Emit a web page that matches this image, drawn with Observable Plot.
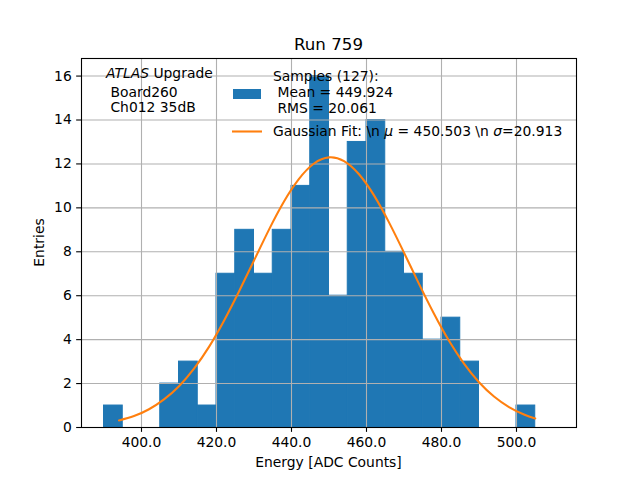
<!DOCTYPE html>
<html><head><meta charset="utf-8">
<script src="https://cdn.jsdelivr.net/npm/d3@7"></script>
<script src="https://cdn.jsdelivr.net/npm/@observablehq/plot@0.6"></script>
<style>
body{margin:0;background:#fff}
svg{font-family:"DejaVu Sans",sans-serif}
</style>
</head><body><div id="chart"></div>
<script>
// Histogram bin edges and counts (bin width 5 ADC counts)
const binEdges = [390,395,400,405,410,415,420,425,430,435,440,445,450,455,460,465,470,475,480,485,490,495,500,505,510];
const counts   = [1,0,0,2,3,1,7,9,7,9,11,16,6,13,14,8,7,4,5,3,0,0,1,0];
// Gaussian fit curve
const fitX = [394,398,402,406,410,414,418,422,426,430,434,438,442,446,450,454,458,462,466,470,474,478,482,486,490,494,498,502,505];
const fitY = [0.32,0.52,0.83,1.28,1.88,2.68,3.67,4.86,6.19,7.60,9.01,10.29,11.32,12.02,12.30,12.13,11.53,10.57,9.34,7.96,6.54,5.18,3.95,2.91,2.06,1.41,0.93,0.59,0.41];
const xTicks = [400,420,440,460,480,500];
const yTicks = [0,2,4,6,8,10,12,14,16];
const titleText = "Run 759";
const xLabel = "Energy [ADC Counts]";
const yLabel = "Entries";
const annotLines = [[["ATLAS",true],[" Upgrade",false]],[[" Board260",false]],[[" Ch012 35dB",false]]];
const sampleLabel = ["Samples (127):"," Mean = 449.924"," RMS = 20.061"];
const fitLabel = [["Gaussian Fit: \\n ",false],["μ",true],[" = 450.503 \\n ",false],["σ",true],["=20.913",false]];

const bins = counts.map((c,i)=>({x1: binEdges[i], x2: binEdges[i+1], y: c}));
const fit = fitX.map((x,i)=>({x, y: fitY[i]}));

const FS = 13.89;
const grid = {stroke:"#b0b0b0", strokeOpacity:1, strokeWidth:1.1};
const plot = Plot.plot({
  width: 640, height: 480,
  marginLeft: 81, marginRight: 64, marginTop: 58, marginBottom: 53,
  style: {fontFamily: "DejaVu Sans", fontSize: FS+"px", background: "white", color: "black", overflow: "visible"},
  x: {domain: [384, 516]},
  y: {domain: [0, 16.8]},
  marks: [
    Plot.rectY(bins, {x1:"x1", x2:"x2", y:"y", fill:"#1f77b4", stroke:"#1f77b4", strokeWidth:1, strokeOpacity:1, inset: 0}),
    Plot.gridX(xTicks, grid),
    Plot.gridY(yTicks, grid),
    Plot.line(fit, {x:"x", y:"y", stroke:"#ff7f0e", strokeWidth:2.08, curve:"natural"}),
    Plot.frame({stroke:"black", strokeWidth:1.1}),
    Plot.axisX(xTicks, {tickFormat: d=>d.toFixed(1), tickSize: 4.86, tickPadding: 4.86, label: null, fontSize: FS, strokeWidth:1.1, strokeOpacity:1}),
    Plot.axisY(yTicks, {tickSize: 4.86, tickPadding: 4.86, label: null, fontSize: FS, strokeWidth:1.1, strokeOpacity:1})
  ]
});
document.getElementById("chart").appendChild(plot);

const svg = d3.select(plot);
const g = svg.append("g").attr("fill","black").attr("text-anchor","start").style("font-family","DejaVu Sans").style("font-size",FS+"px");
g.append("text").attr("x",328.5).attr("y",49.5).attr("text-anchor","middle").style("font-size","16.67px").text(titleText);
g.append("text").attr("x",328.5).attr("y",466.5).attr("text-anchor","middle").text(xLabel);
g.append("text").attr("transform","translate(44.3,242.5) rotate(-90)").attr("text-anchor","middle").text(yLabel);

const annY = [78.3, 96.7, 112.3];
annotLines.forEach((parts,i)=>{
  const t = g.append("text").attr("x",106).attr("y",annY[i]).attr("text-anchor","start").attr("xml:space","preserve").style("white-space","pre");
  parts.forEach(([s,it])=>t.append("tspan").style("font-style", it?"italic":"normal").text(s));
});

// legend
g.append("rect").attr("x",233).attr("y",89).attr("width",28).attr("height",10).attr("fill","#1f77b4");
g.append("line").attr("x1",232).attr("x2",262).attr("y1",131.5).attr("y2",131.5).attr("stroke","#ff7f0e").attr("stroke-width",2.08);
const legY = [80.7, 97.3, 113.3];
sampleLabel.forEach((s,i)=>{
  g.append("text").attr("x",273).attr("y",legY[i]).attr("text-anchor","start").attr("xml:space","preserve").style("white-space","pre").text(s);
});
const ft = g.append("text").attr("x",273).attr("y",136).attr("text-anchor","start").attr("xml:space","preserve").style("white-space","pre");
fitLabel.forEach(([s,it])=>ft.append("tspan").style("font-style", it?"italic":"normal").text(s));
</script>
</body></html>
